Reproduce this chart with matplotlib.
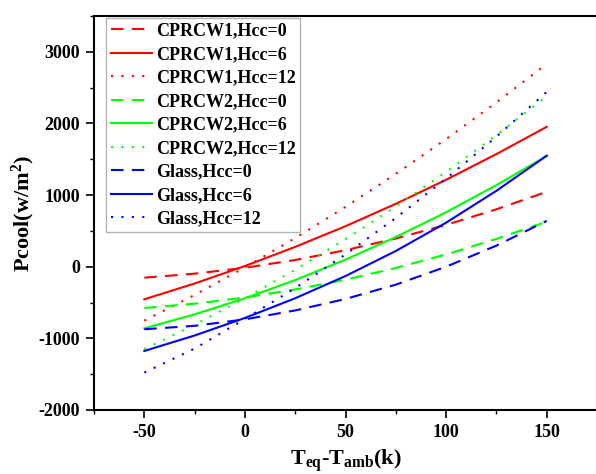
import matplotlib
matplotlib.use("Agg")
import matplotlib.pyplot as plt
from matplotlib.ticker import MultipleLocator

plt.rcParams['font.family'] = ['Liberation Serif', 'DejaVu Serif']
plt.rcParams['font.weight'] = 'bold'
plt.rcParams['axes.unicode_minus'] = False
plt.rcParams['mathtext.fontset'] = 'custom'
plt.rcParams['mathtext.rm'] = 'Liberation Serif:bold'
plt.rcParams['mathtext.it'] = 'Liberation Serif:bold'
plt.rcParams['mathtext.bf'] = 'Liberation Serif:bold'

x_vals = [-50, -25, 0, 25, 50, 75, 100, 125, 150]

cprcw1_h0 = [-153, -97, -15, 94, 231, 394, 584, 802, 1046]
cprcw1_h6 = [-455, -234, 10, 277, 566, 878, 1214, 1572, 1953]
cprcw1_h12 = [-753, -394, -10, 400, 835, 1296, 1782, 2293, 2830]
cprcw2_h0 = [-576, -516, -430, -318, -181, -18, 172, 388, 628]
cprcw2_h6 = [-860, -665, -441, -186, 99, 414, 761, 1139, 1546]
cprcw2_h12 = [-1150, -810, -441, -43, 384, 840, 1324, 1835, 2380]
glass_h0 = [-873, -825, -735, -610, -450, -250, 0, 295, 640]
glass_h6 = [-1176, -960, -715, -440, -130, 220, 615, 1060, 1550]
glass_h12 = [-1478, -1143, -730, -298, 172, 681, 1229, 1815, 2440]

labels = ["CPRCW1,Hcc=0", "CPRCW1,Hcc=6", "CPRCW1,Hcc=12",
          "CPRCW2,Hcc=0", "CPRCW2,Hcc=6", "CPRCW2,Hcc=12",
          "Glass,Hcc=0", "Glass,Hcc=6", "Glass,Hcc=12"]
series = [cprcw1_h0, cprcw1_h6, cprcw1_h12,
          cprcw2_h0, cprcw2_h6, cprcw2_h12,
          glass_h0, glass_h6, glass_h12]
colors = ["#ff0000"] * 3 + ["#00ff00"] * 3 + ["#0000ff"] * 3
dash = (0, (6, 4))
dot = (0, (1, 4))
styles = [dash, '-', dot] * 3

fig = plt.figure(figsize=(5.96, 4.74), dpi=100)
ax = fig.add_axes([94 / 596, 64 / 474, 503 / 596, 394 / 474])

for y, lab, c, ls in zip(series, labels, colors, styles):
    ax.plot(x_vals, y, color=c, linestyle=ls, linewidth=1.5, label=lab)

ax.set_xlim(-75, 175)
ax.set_ylim(-2000, 3500)
ax.set_xticks([-50, 0, 50, 100, 150])
ax.set_yticks([-2000, -1000, 0, 1000, 2000, 3000])
ax.xaxis.set_minor_locator(MultipleLocator(25))
ax.yaxis.set_minor_locator(MultipleLocator(500))
ax.tick_params(which='major', direction='out', length=6, width=1.2,
               labelsize=13, top=False, right=False, pad=4)
ax.tick_params(which='minor', direction='out', length=3, width=1.0,
               top=False, right=False)
for lab in ax.get_xticklabels() + ax.get_yticklabels():
    lab.set_fontweight('bold')
for sp in ax.spines.values():
    sp.set_linewidth(1.5)

ax.set_ylabel('Pcool(w/m$^{2}$)', fontsize=16, fontweight='bold', labelpad=1)
ax.set_xlabel('T$_{\\mathrm{eq}}$-T$_{\\mathrm{amb}}$(k)', fontsize=16,
              fontweight='bold', labelpad=5)

leg = ax.legend(loc='upper left', bbox_to_anchor=(0.024, 0.995), borderaxespad=0,
                frameon=True, fancybox=False, handlelength=2.3,
                handletextpad=0.2, labelspacing=0.36, borderpad=0.25,
                prop={'weight': 'bold', 'size': 13})
leg.get_frame().set_edgecolor('#a0a0a0')
leg.get_frame().set_linewidth(1.0)

fig.savefig('out.png', dpi=100)
